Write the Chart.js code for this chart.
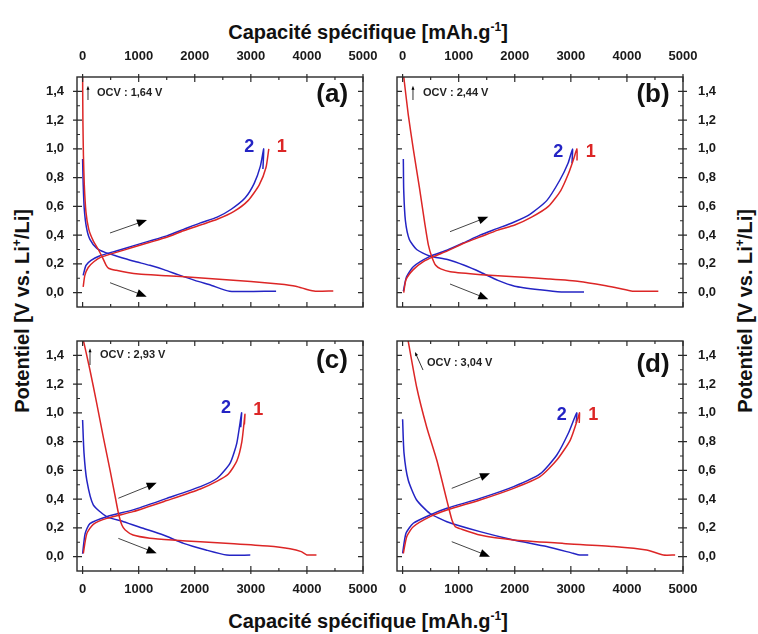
<!doctype html>
<html lang="fr">
<head>
<meta charset="utf-8">
<title>Capacité spécifique - potentiel</title>
<style>
  * { margin: 0; padding: 0; }
  body { width: 758px; height: 634px; background: #fff; position: relative; overflow: hidden;
         font-family: "Liberation Sans", Arial, sans-serif; }
  canvas { position: absolute; }
  .title { position: absolute; font-weight: bold; font-size: 20px; color: #111; white-space: nowrap; line-height: 1; }
  .title sup { font-size: 12px; vertical-align: 8px; line-height: 0; }
  .xtitle { transform: translate(-50%, -50%); }
  .ytitle { transform: translate(-50%, -50%) rotate(-90deg); }
</style>
<script src="https://cdn.jsdelivr.net/npm/chart.js"></script>
</head>
<body>
<div class="title xtitle" style="left:368px; top:32px">Capacité spécifique [mAh.g<sup>-1</sup>]</div>
<div class="title xtitle" style="left:368px; top:621px">Capacité spécifique [mAh.g<sup>-1</sup>]</div>
<div class="title ytitle" style="left:22px; top:311px">Potentiel [V vs. Li<sup>+</sup>/Li]</div>
<div class="title ytitle" style="left:745px; top:311px">Potentiel [V vs. Li<sup>+</sup>/Li]</div>

<script>
// tick labels
const xTickValues = [0, 1000, 2000, 3000, 4000, 5000];
const xMinorValues = [500, 1500, 2500, 3500, 4500];
const yTickValues = [0, 0.2, 0.4, 0.6, 0.8, 1.0, 1.2, 1.4];
const yMinorValues = [0.1, 0.3, 0.5, 0.7, 0.9, 1.1, 1.3];

// panel (a) : [capacity mAh/g, potential V]
const a_red_dis = [[0,1.52],[5,1.2],[15,0.95],[30,0.75],[60,0.56],[110,0.44],[190,0.36],[280,0.3],[360,0.24],[420,0.19],[470,0.168],[600,0.155],[800,0.14],[1000,0.13],[1500,0.118],[2000,0.105],[2500,0.092],[3000,0.077],[3500,0.06],[3800,0.045],[4000,0.022],[4150,0.01],[4470,0.012]];
const a_blue_dis = [[0,0.93],[10,0.76],[30,0.58],[70,0.45],[130,0.37],[250,0.31],[400,0.28],[600,0.255],[900,0.22],[1200,0.19],[1450,0.16],[1700,0.125],[2000,0.085],[2300,0.05],[2620,0.01],[3450,0.01]];
const a_red_ch = [[10,0.04],[40,0.12],[100,0.175],[200,0.215],[320,0.245],[600,0.28],[900,0.315],[1200,0.35],[1500,0.385],[1800,0.43],[2100,0.47],[2400,0.51],[2700,0.565],[2950,0.64],[3150,0.75],[3270,0.87],[3320,1.0]];
const a_blue_ch = [[10,0.12],[60,0.19],[150,0.225],[300,0.255],[600,0.29],[900,0.325],[1200,0.36],[1500,0.395],[1800,0.44],[2100,0.485],[2400,0.525],[2650,0.58],[2900,0.66],[3060,0.76],[3170,0.88],[3230,1.0],[3215,0.86]];

// panel (b)
const b_red_dis = [[15,1.52],[100,1.24],[190,1.0],[300,0.73],[400,0.47],[460,0.33],[520,0.25],[590,0.19],[680,0.165],[850,0.145],[1400,0.125],[2000,0.11],[2600,0.095],[3150,0.078],[3600,0.05],[3850,0.03],[4100,0.01],[4560,0.01]];
const b_blue_dis = [[13,0.93],[20,0.71],[50,0.5],[120,0.37],[250,0.3],[480,0.255],[800,0.23],[1100,0.19],[1400,0.14],[1700,0.085],[2000,0.045],[2450,0.02],[2830,0.005],[3235,0.005]];
const b_red_ch = [[20,0.0],[60,0.09],[190,0.16],[370,0.215],[550,0.25],[800,0.29],[1100,0.345],[1400,0.39],[1700,0.435],[2000,0.47],[2300,0.525],[2600,0.6],[2820,0.71],[2960,0.83],[3050,0.93],[3110,1.0],[3110,0.92]];
const b_blue_ch = [[13,0.01],[70,0.11],[190,0.18],[480,0.25],[790,0.295],[1080,0.345],[1380,0.4],[1680,0.445],[1980,0.49],[2270,0.545],[2570,0.64],[2800,0.78],[2950,0.9],[3030,1.0],[3020,0.9]];

// panel (c)
const c_red_dis = [[5,1.52],[130,1.3],[250,1.07],[370,0.83],[490,0.6],[580,0.42],[640,0.3],[700,0.22],[760,0.185],[900,0.15],[1200,0.128],[1600,0.115],[2100,0.103],[2700,0.09],[3300,0.074],[3700,0.055],[3900,0.035],[4000,0.012],[4170,0.012]];
const c_blue_dis = [[0,0.95],[25,0.72],[75,0.53],[190,0.36],[430,0.278],[730,0.243],[1080,0.197],[1440,0.15],[1800,0.092],[2200,0.046],[2570,0.011],[2990,0.011]];
const c_red_ch = [[13,0.023],[75,0.16],[190,0.225],[430,0.266],[900,0.313],[1500,0.39],[2100,0.47],[2400,0.525],[2600,0.575],[2750,0.665],[2840,0.8],[2895,0.99],[2885,0.92]];
const c_blue_ch = [[0,0.02],[45,0.16],[130,0.23],[430,0.278],[900,0.325],[1500,0.405],[2100,0.487],[2400,0.545],[2630,0.65],[2750,0.79],[2835,1.0],[2820,0.9]];

// panel (d)
const d_red_dis = [[90,1.52],[250,1.18],[430,0.9],[610,0.67],[790,0.39],[880,0.255],[940,0.208],[1020,0.195],[1380,0.15],[1980,0.116],[2870,0.092],[3760,0.07],[4350,0.046],[4650,0.011],[4860,0.011]];
const d_blue_dis = [[0,0.955],[25,0.72],[100,0.533],[250,0.394],[490,0.3],[790,0.243],[1380,0.174],[1980,0.116],[2570,0.07],[3040,0.023],[3160,0.011],[3310,0.011]];
const d_red_ch = [[13,0.023],[75,0.14],[190,0.208],[490,0.278],[790,0.324],[1380,0.394],[1980,0.475],[2450,0.556],[2750,0.672],[2990,0.811],[3135,0.974],[3155,1.0],[3150,0.93]];
const d_blue_ch = [[0,0.023],[60,0.162],[190,0.232],[490,0.29],[790,0.336],[1380,0.405],[1980,0.487],[2450,0.575],[2750,0.707],[2955,0.858],[3105,1.0],[3095,0.93]];

const RED = '#dc2626';
const BLUE = '#2424c4';
const FONT = "'Liberation Sans', Arial, sans-serif";

// frame (pixel box of the plot area), axis sides and annotations (data coords)
const panels = [
  { name: '(a)', frame: [77, 77, 363, 307], xPos: 'top', yPos: 'left', ocv: 'OCV : 1,64 V',
    series: [a_red_dis, a_red_ch, a_blue_dis, a_blue_ch],
    label: [4450, 1.375], ocvText: [257, 1.389], ocvArrow: [[96, 1.34], [96, 1.44]],
    arrowUp: [[489, 0.415], [1148, 0.505]], arrowDown: [[489, 0.069], [1143, -0.028]],
    lab2: [2973, 1.011], lab1: [3550, 1.011] },
  { name: '(b)', frame: [397, 77, 683, 307], xPos: 'top', yPos: 'right', ocv: 'OCV : 2,44 V',
    series: [b_red_dis, b_red_ch, b_blue_dis, b_blue_ch],
    label: [4465, 1.375], ocvText: [364, 1.389], ocvArrow: [[185, 1.34], [185, 1.44]],
    arrowUp: [[845, 0.424], [1528, 0.528]], arrowDown: [[845, 0.06], [1528, -0.046]],
    lab2: [2776, 0.98], lab1: [3354, 0.98] },
  { name: '(c)', frame: [77, 341, 363, 571], xPos: 'bottom', yPos: 'left', ocv: 'OCV : 2,93 V',
    series: [c_red_dis, c_red_ch, c_blue_dis, c_blue_ch],
    label: [4447, 1.36], ocvText: [310, 1.403], ocvArrow: [[132, 1.333], [132, 1.45]],
    arrowUp: [[637, 0.406], [1321, 0.514]], arrowDown: [[637, 0.127], [1321, 0.023]],
    lab2: [2557, 1.032], lab1: [3133, 1.02] },
  { name: '(d)', frame: [397, 341, 683, 571], xPos: 'bottom', yPos: 'right', ocv: 'OCV : 3,04 V',
    series: [d_red_dis, d_red_ch, d_blue_dis, d_blue_ch],
    label: [4465, 1.333], ocvText: [435, 1.347], ocvArrow: [[364, 1.298], [221, 1.423]],
    arrowUp: [[876, 0.475], [1558, 0.58]], arrowDown: [[876, 0.104], [1558, 0.0]],
    lab2: [2837, 0.985], lab1: [3400, 0.985] }
];

const MX = 70, MY = 45;   // room for axes around every frame

// frame + inward ticks
const framePlugin = {
  id: 'frame',
  afterDatasetsDraw(chart, args, opts) {
    const { ctx, chartArea: { left, top, right, bottom }, scales: { x, y } } = chart;
    const p = opts.panel;
    ctx.save();
    ctx.strokeStyle = '#2a2a2a';
    ctx.lineWidth = 1.4;
    ctx.strokeRect(left, top, right - left, bottom - top);
    ctx.lineWidth = 1.2;
    ctx.beginPath();
    xTickValues.forEach(v => {
      const px = x.getPixelForValue(v);
      ctx.moveTo(px, top); ctx.lineTo(px, top + 5);
      ctx.moveTo(px, bottom); ctx.lineTo(px, bottom - 5);
      if (p.xPos === 'top') { ctx.moveTo(px, top); ctx.lineTo(px, top - 3); }
      else { ctx.moveTo(px, bottom); ctx.lineTo(px, bottom + 3); }
    });
    xMinorValues.forEach(v => {
      const px = x.getPixelForValue(v);
      ctx.moveTo(px, top); ctx.lineTo(px, top + 3);
      ctx.moveTo(px, bottom); ctx.lineTo(px, bottom - 3);
    });
    yTickValues.forEach(v => {
      const py = y.getPixelForValue(v);
      ctx.moveTo(left, py); ctx.lineTo(left + 5, py);
      ctx.moveTo(right, py); ctx.lineTo(right - 5, py);
      if (p.yPos === 'left') { ctx.moveTo(left, py); ctx.lineTo(left - 4, py); }
      else { ctx.moveTo(right, py); ctx.lineTo(right + 4, py); }
    });
    yMinorValues.forEach(v => {
      const py = y.getPixelForValue(v);
      ctx.moveTo(left, py); ctx.lineTo(left + 3, py);
      ctx.moveTo(right, py); ctx.lineTo(right - 3, py);
    });
    ctx.stroke();
    ctx.restore();
  }
};

function drawArrow(ctx, x0, y0, x1, y1, head, width, color) {
  const ang = Math.atan2(y1 - y0, x1 - x0);
  ctx.save();
  ctx.strokeStyle = color;
  ctx.fillStyle = '#000';
  ctx.lineWidth = 1;
  ctx.beginPath();
  ctx.moveTo(x0, y0);
  ctx.lineTo(x1 - Math.cos(ang) * head * 0.8, y1 - Math.sin(ang) * head * 0.8);
  ctx.stroke();
  ctx.translate(x1, y1);
  ctx.rotate(ang);
  ctx.beginPath();
  ctx.moveTo(0, 0);
  ctx.lineTo(-head, -width / 2);
  ctx.lineTo(-head, width / 2);
  ctx.closePath();
  ctx.fill();
  ctx.restore();
}

// texts and arrows inside each panel
const notesPlugin = {
  id: 'notes',
  afterDatasetsDraw(chart, args, opts) {
    const { ctx, scales: { x, y } } = chart;
    const p = opts.panel;
    const X = v => x.getPixelForValue(v), Y = v => y.getPixelForValue(v);
    ctx.save();
    ctx.textBaseline = 'middle';

    ctx.font = 'bold 26px ' + FONT;
    ctx.fillStyle = '#111';
    ctx.textAlign = 'center';
    ctx.fillText(p.name, X(p.label[0]), Y(p.label[1]));

    ctx.font = 'bold 11px ' + FONT;
    ctx.fillStyle = '#222';
    ctx.textAlign = 'left';
    ctx.fillText(p.ocv, X(p.ocvText[0]), Y(p.ocvText[1]));
    drawArrow(ctx, X(p.ocvArrow[0][0]), Y(p.ocvArrow[0][1]), X(p.ocvArrow[1][0]), Y(p.ocvArrow[1][1]), 4, 3, '#333');

    ctx.font = 'bold 18px ' + FONT;
    ctx.textAlign = 'center';
    ctx.fillStyle = BLUE;
    ctx.fillText('2', X(p.lab2[0]), Y(p.lab2[1]));
    ctx.fillStyle = RED;
    ctx.fillText('1', X(p.lab1[0]), Y(p.lab1[1]));

    drawArrow(ctx, X(p.arrowUp[0][0]), Y(p.arrowUp[0][1]), X(p.arrowUp[1][0]), Y(p.arrowUp[1][1]), 10, 8, '#444');
    drawArrow(ctx, X(p.arrowDown[0][0]), Y(p.arrowDown[0][1]), X(p.arrowDown[1][0]), Y(p.arrowDown[1][1]), 10, 8, '#444');
    ctx.restore();
  }
};

Chart.defaults.font.family = FONT;

panels.forEach(p => {
  const [l, t, r, b] = p.frame;
  const cv = document.createElement('canvas');
  cv.width = r - l + 2 * MX;
  cv.height = b - t + 2 * MY;
  cv.style.left = (l - MX) + 'px';
  cv.style.top = (t - MY) + 'px';
  document.body.appendChild(cv);

  const colours = [RED, RED, BLUE, BLUE];
  const datasets = p.series.map((s, i) => ({
    data: s.map(pt => ({ x: pt[0], y: pt[1] })),
    borderColor: colours[i],
    borderWidth: 1.5,
    pointRadius: 0,
    showLine: true,
    tension: 0.2,
    fill: false
  }));

  new Chart(cv, {
    type: 'scatter',
    data: { datasets },
    options: {
      responsive: false,
      animation: false,
      layout: {
        padding: {
          left: p.yPos === 'left' ? 0 : MX,
          right: p.yPos === 'right' ? 0 : MX,
          top: p.xPos === 'top' ? 0 : MY,
          bottom: p.xPos === 'bottom' ? 0 : MY
        }
      },
      plugins: {
        legend: { display: false },
        tooltip: { enabled: false },
        frame: { panel: p },
        notes: { panel: p }
      },
      scales: {
        x: {
          type: 'linear',
          position: p.xPos,
          min: -100,
          max: 5000,
          afterBuildTicks: s => { s.ticks = xTickValues.map(v => ({ value: v })); },
          afterFit: s => { s.height = MY; },
          grid: { display: false },
          border: { display: false },
          ticks: {
            autoSkip: false,
            maxRotation: 0,
            padding: p.xPos === 'top' ? 5 : 3,
            color: '#1a1a1a',
            font: { size: 13, weight: 'bold' },
            callback: v => String(v)
          }
        },
        y: {
          type: 'linear',
          position: p.yPos,
          min: -0.1,
          max: 1.5,
          afterBuildTicks: s => { s.ticks = yTickValues.map(v => ({ value: v })); },
          afterFit: s => { s.width = MX; },
          grid: { display: false },
          border: { display: false },
          ticks: {
            padding: p.yPos === 'left' ? 5 : 7,
            color: '#1a1a1a',
            font: { size: 13, weight: 'bold' },
            callback: v => v.toFixed(1).replace('.', ',')
          }
        }
      }
    },
    plugins: [framePlugin, notesPlugin]
  });
});
</script>
</body>
</html>
